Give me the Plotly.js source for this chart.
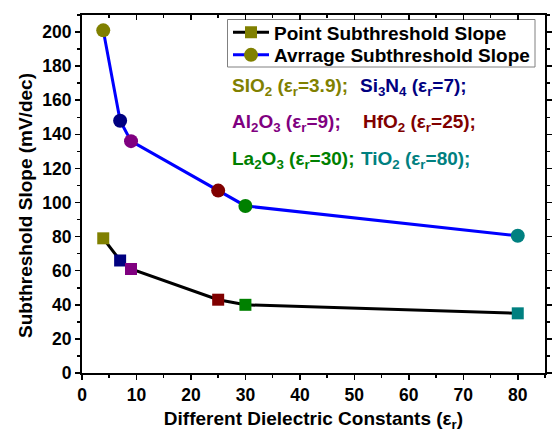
<!DOCTYPE html>
<html><head><meta charset="utf-8">
<script src="https://cdn.plot.ly/plotly-3.0.1.min.js"></script>
<style>body{margin:0;padding:0;background:#fff}</style>
</head><body>
<div id="chart" style="width:552px;height:432px"></div>
<script>
const dielectric = [3.9, 7, 9, 25, 30, 80];
const pointSS = [79, 66, 61, 43, 40, 35];
const avgSS = [201, 148, 136, 107, 98, 80.5];
const matColors = ['#808000', '#000080', '#800080', '#800000', '#008000', '#008080'];
const labels = [
  'SIO<sub>2</sub> (ε<sub>r</sub>=3.9);', 'Si<sub>3</sub>N<sub>4</sub> (ε<sub>r</sub>=7);',
  'Al<sub>2</sub>O<sub>3</sub> (ε<sub>r</sub>=9);', 'HfO<sub>2</sub> (ε<sub>r</sub>=25);',
  'La<sub>2</sub>O<sub>3</sub> (ε<sub>r</sub>=30);', 'TiO<sub>2</sub> (ε<sub>r</sub>=80);'
];

const W = 552, H = 432, L = 82, R = 7, T = 15, B = 59;
const px = x => (x - L) / (W - L - R);
const py = y => 1 - (y - T) / (H - T - B);
const FONT = 'Arial';

const traces = [
  {x: dielectric, y: pointSS, name: '<b>Point Subthreshold Slope</b>', mode: 'lines+markers', legend: 'legend',
   line: {color: '#000000', width: 3}, marker: {symbol: 'square', size: 12, color: matColors}},
  {x: dielectric, y: avgSS, name: '<b>Avrrage Subthreshold Slope</b>', mode: 'lines+markers', legend: 'legend2',
   line: {color: '#0000ff', width: 3}, marker: {symbol: 'circle', size: 14, color: matColors}},
  {x: [0], y: [0], xaxis: 'x2', mode: 'markers', marker: {opacity: 0}, showlegend: false, hoverinfo: 'skip'}
];

const annPos = [[230, 87], [358, 87], [230, 123], [361, 123], [230, 160], [359, 160]];
const annotations = labels.map((t, i) => ({
  text: '<b>' + t + '</b>', xref: 'paper', yref: 'paper', x: px(annPos[i][0]), y: py(annPos[i][1]),
  xanchor: 'left', yanchor: 'middle', showarrow: false,
  font: {family: FONT, size: 19, color: matColors[i]}
}));
annotations.push({
  text: '<b>Subthreshold Slope (mV/dec)</b>', textangle: -90, xref: 'paper', yref: 'paper',
  x: px(25), y: py(206), xanchor: 'center', yanchor: 'middle', showarrow: false,
  font: {family: FONT, size: 19, color: '#000'}
});

const axisCommon = {
  showgrid: false, zeroline: false, linecolor: '#000', linewidth: 2,
  ticks: 'outside', ticklen: 5, tickwidth: 1.5, tickcolor: '#000',
  tickfont: {family: FONT, size: 17.5, color: '#000', weight: 'bold'}
};

const legendCommon = {xanchor: 'left', yanchor: 'middle', borderwidth: 0, bgcolor: 'rgba(0,0,0,0)',
  font: {family: FONT, size: 19, color: '#000'}, itemwidth: 36};

const layout = {
  width: W, height: H, margin: {l: L, r: R, t: T, b: B},
  paper_bgcolor: '#fff', plot_bgcolor: '#fff',
  font: {family: FONT},
  showlegend: true,
  legend: Object.assign({}, legendCommon, {x: px(228), y: py(32.5)}),
  legend2: Object.assign({}, legendCommon, {x: px(228), y: py(55)}),
  shapes: [{type: 'rect', xref: 'paper', yref: 'paper', x0: px(227.5), x1: px(535), y0: py(19.5), y1: py(67),
    line: {color: '#808080', width: 1}, fillcolor: 'rgba(0,0,0,0)', layer: 'below'}],
  xaxis: Object.assign({}, axisCommon, {range: [0, 85], dtick: 10, tick0: 0, mirror: true,
    minor: {dtick: 5, ticks: 'outside', ticklen: 3, tickwidth: 1.5, tickcolor: '#000'},
    title: {text: '<b>Different Dielectric Constants (ε<sub>r</sub>)</b>', standoff: 10,
      font: {family: FONT, size: 19, color: '#000'}}}),
  xaxis2: {overlaying: 'x', side: 'top', matches: 'x', range: [0, 85], dtick: 10, tick0: 0,
    showticklabels: false, showgrid: false, zeroline: false, showline: false,
    ticks: 'inside', ticklen: 5, tickwidth: 1.5, tickcolor: '#000',
    minor: {dtick: 5, ticks: 'inside', ticklen: 3, tickwidth: 1.5, tickcolor: '#000'}},
  yaxis: Object.assign({}, axisCommon, {range: [0, 210], dtick: 20, tick0: 0, mirror: 'ticks',
    minor: {dtick: 10, ticks: 'outside', ticklen: 3, tickwidth: 1.5, tickcolor: '#000'}}),
  annotations: annotations
};

Plotly.newPlot('chart', traces, layout, {displayModeBar: false, staticPlot: true});
</script>
</body></html>
